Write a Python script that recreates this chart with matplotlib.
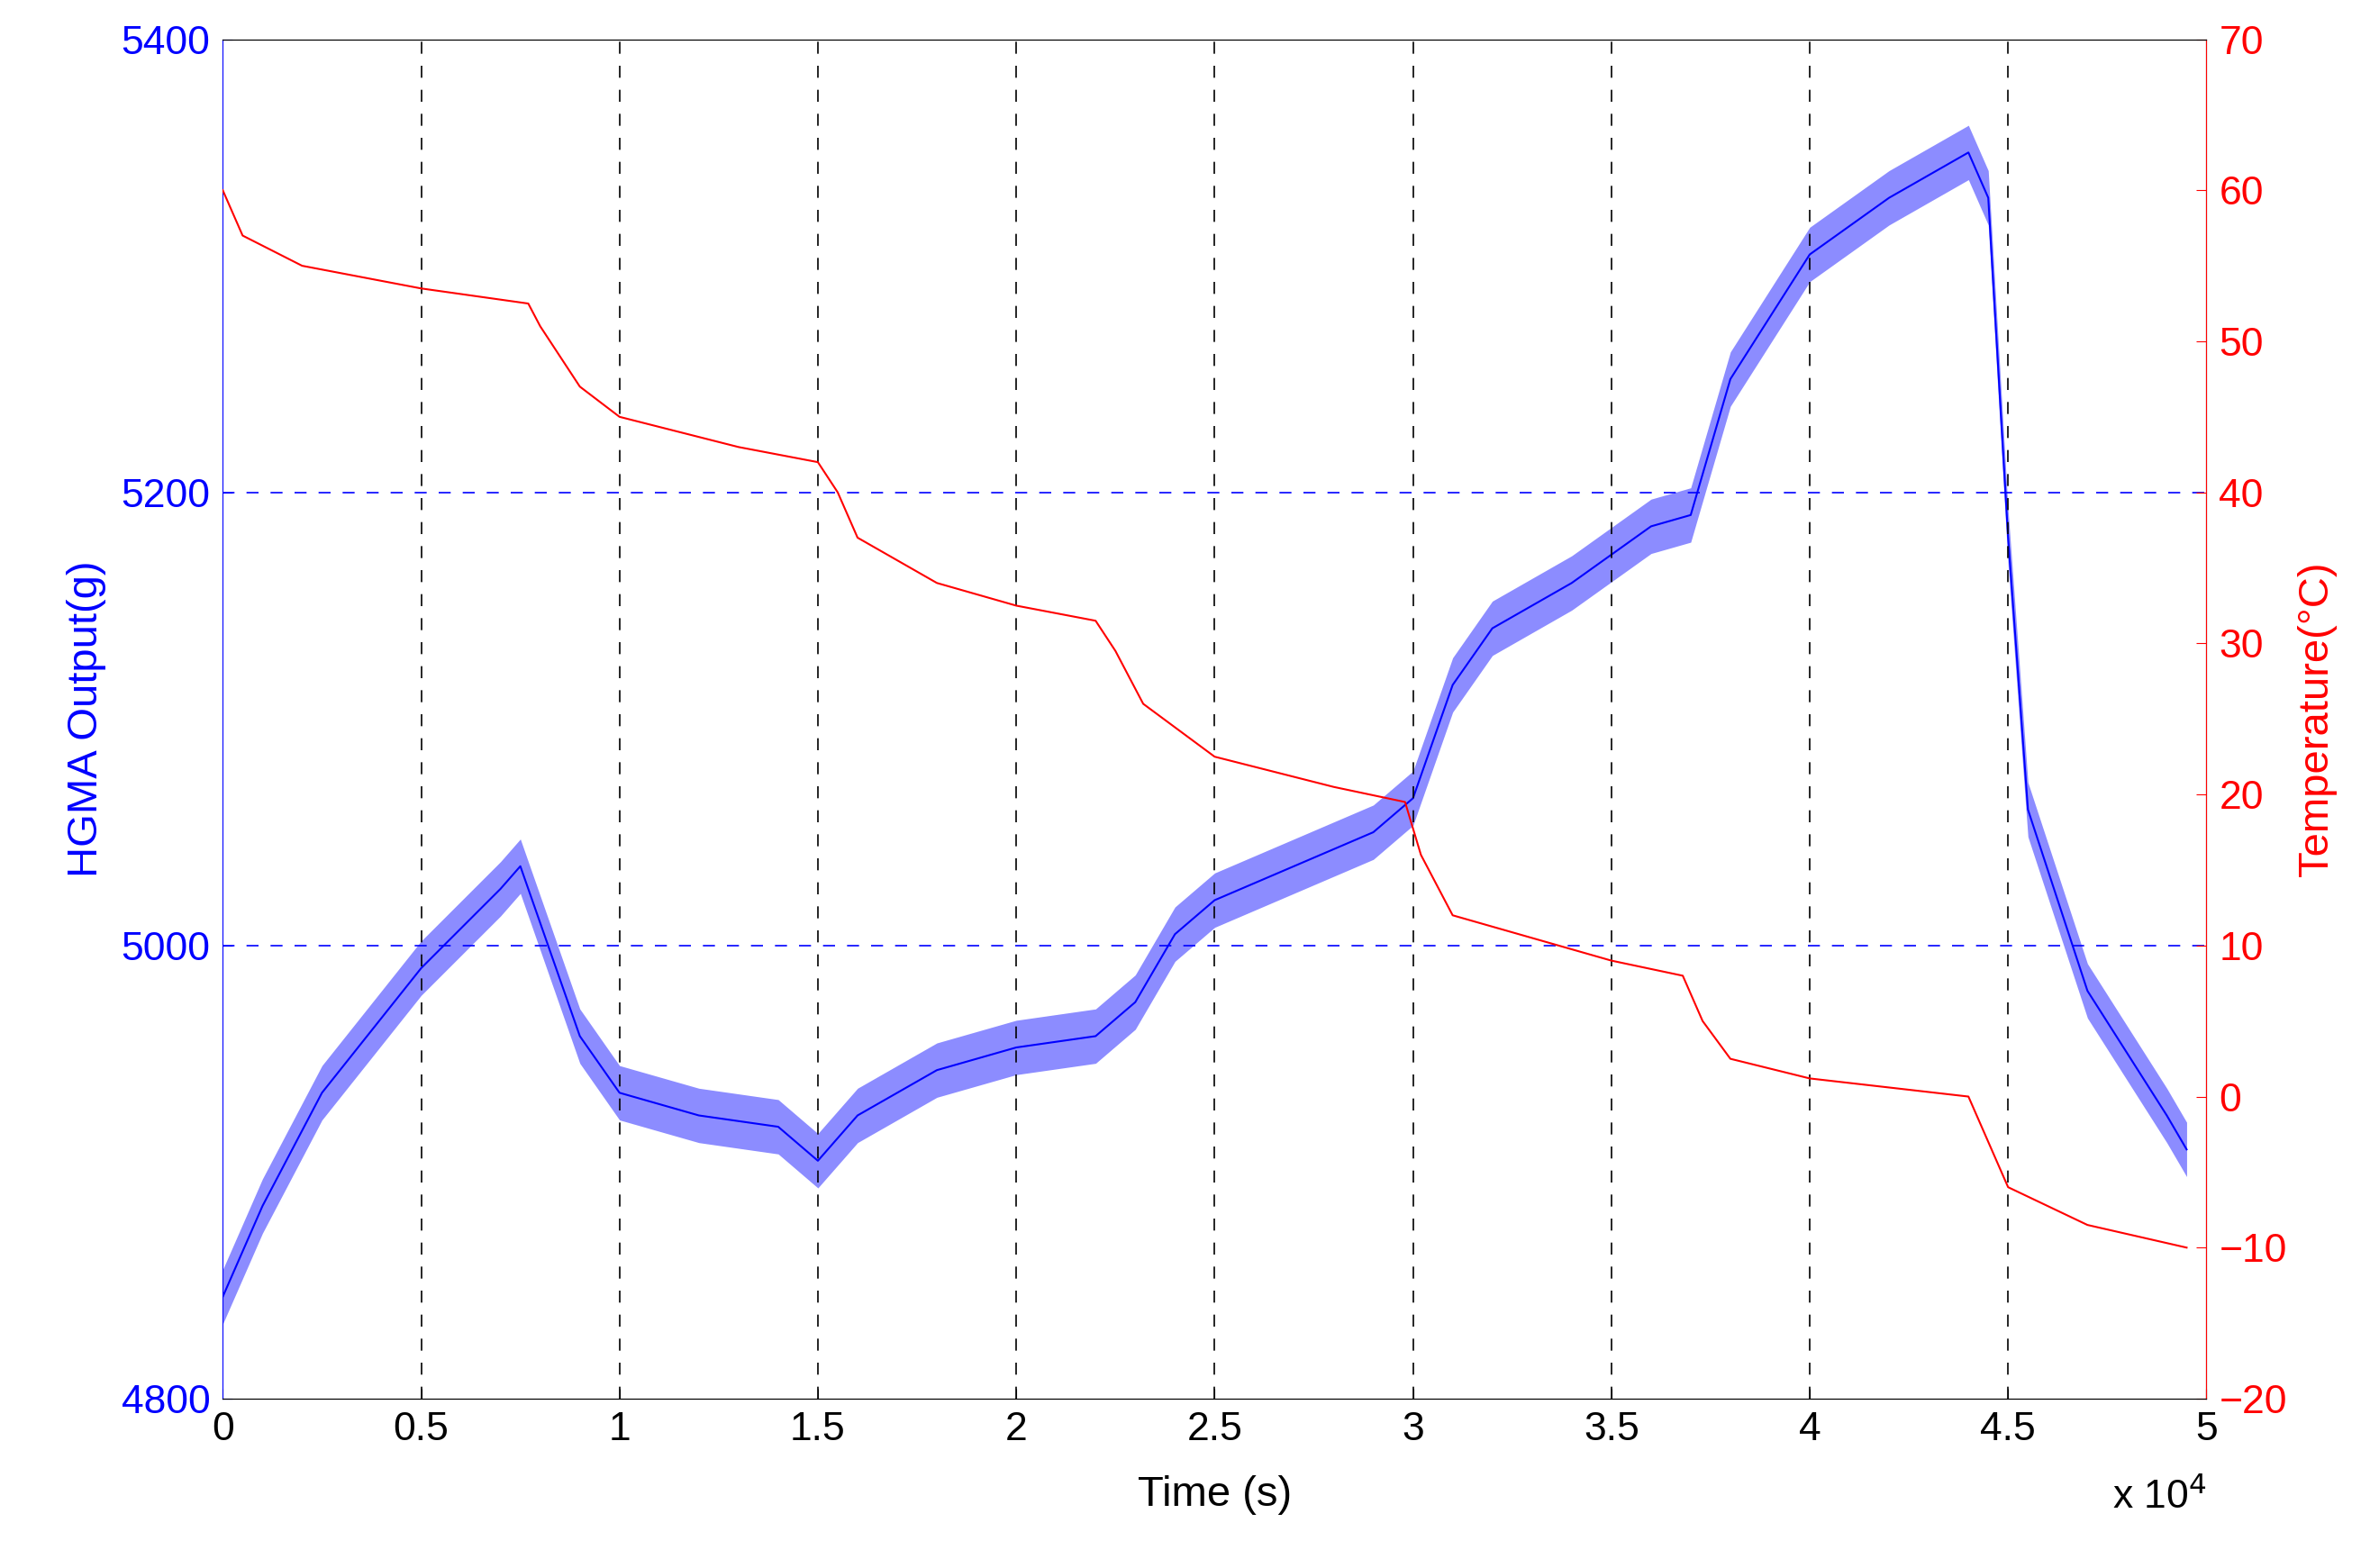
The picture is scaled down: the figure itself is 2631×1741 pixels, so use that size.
import matplotlib as mpl
mpl.use("Agg")
import matplotlib.pyplot as plt
import numpy as np

plt.rcParams["font.family"] = ["Arial", "Liberation Sans", "DejaVu Sans"]

# HGMA output (g): centre line and half-width of the jitter band
t_hgma = [0, 0.1e4, 0.25e4, 0.5e4, 0.7e4, 0.75e4, 0.8e4, 0.9e4, 1.0e4, 1.2e4, 1.4e4,
          1.5e4, 1.6e4, 1.8e4, 2.0e4, 2.2e4, 2.3e4, 2.4e4, 2.5e4, 2.7e4, 2.9e4, 3.0e4,
          3.1e4, 3.2e4, 3.4e4, 3.6e4, 3.7e4, 3.8e4, 4.0e4, 4.2e4, 4.4e4, 4.45e4, 4.5e4,
          4.55e4, 4.7e4, 4.9e4, 4.95e4]
hgma = [4845, 4885, 4935, 4990, 5025, 5035, 5010, 4960, 4935, 4925, 4920,
        4905, 4925, 4945, 4955, 4960, 4975, 5005, 5020, 5035, 5050, 5065,
        5115, 5140, 5160, 5185, 5190, 5250, 5305, 5330, 5350, 5330, 5180,
        5060, 4980, 4925, 4910]
band = 12

# Temperature (deg C)
t_temp = [0, 0.05e4, 0.2e4, 0.5e4, 0.77e4, 0.8e4, 0.9e4, 1.0e4, 1.3e4, 1.5e4, 1.55e4,
          1.6e4, 1.8e4, 2.0e4, 2.2e4, 2.25e4, 2.32e4, 2.5e4, 2.8e4, 2.98e4, 3.02e4,
          3.1e4, 3.5e4, 3.68e4, 3.73e4, 3.8e4, 4.0e4, 4.4e4, 4.45e4, 4.5e4, 4.7e4, 4.95e4]
temp = [60, 57, 55, 53.5, 52.5, 51, 47, 45, 43, 42, 40,
        37, 34, 32.5, 31.5, 29.5, 26, 22.5, 20.5, 19.5, 16,
        12, 9, 8, 5, 2.5, 1.2, 0, -3, -6, -8.5, -10]

fig = plt.figure(figsize=(26.31, 17.41), dpi=100)
ax = fig.add_axes([0.094, 0.108, 0.837, 0.867])
h = np.array(hgma)
ax.fill_between(t_hgma, h - band, h + band, color="blue", alpha=0.45, lw=0)
ax.plot(t_hgma, hgma, color="blue", lw=1.5)
ax.set_xlim(0, 5e4)
ax.set_ylim(4800, 5400)
ax.set_yticks([4800, 5000, 5200, 5400])
ax.set_xticks(np.arange(0, 5.01e4, 0.5e4))
ax.set_xticklabels(["0", "0.5", "1", "1.5", "2", "2.5", "3", "3.5", "4", "4.5", "5"])
ax.tick_params(labelsize=32, direction="in", length=8, pad=10)
ax.tick_params(axis="y", colors="blue")
ax.spines["left"].set_color("blue")
ax.set_ylabel("HGMA Output(g)", color="blue", fontsize=34, labelpad=12)
ax.set_xlabel("Time (s)", fontsize=34, labelpad=22)
for y in [5000, 5200, 5400]:
    ax.axhline(y, color="blue", ls=(0, (8, 8)), lw=1.2)
for x in np.arange(0.5e4, 5e4, 0.5e4):
    ax.axvline(x, color="black", ls=(0, (8, 8)), lw=1.2)
ax.text(1.0, -0.058, r"x 10$^4$", transform=ax.transAxes, fontsize=32, ha="right", va="top")

ax2 = ax.twinx()
ax2.plot(t_temp, temp, color="red", lw=1.5)
ax2.set_ylim(-20, 70)
ax2.set_yticks(np.arange(-20, 71, 10))
ax2.tick_params(labelsize=32, colors="red", direction="in", length=8, pad=10)
ax2.spines["right"].set_color("red")
ax2.spines["left"].set_visible(False)
ax2.set_ylabel("Temperature(\u00b0C)", color="red", fontsize=34, labelpad=8)
ax2.set_xlim(0, 5e4)

fig.savefig("out.png", dpi=100)
